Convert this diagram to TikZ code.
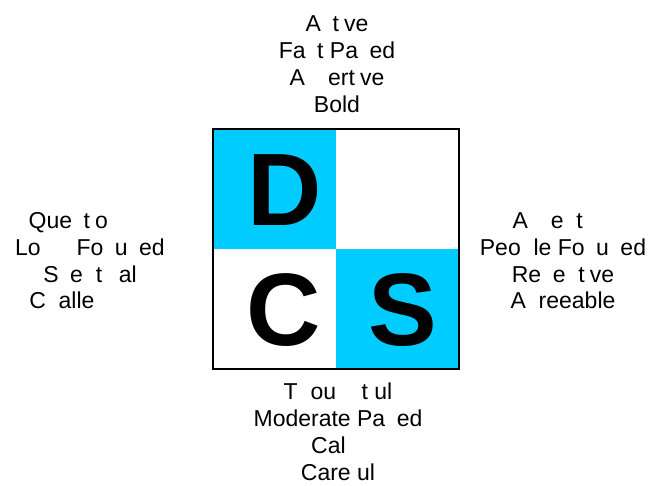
\documentclass[tikz,border=0pt]{standalone}
\usepackage{fontspec}
\setmainfont{Liberation Sans}
\usepackage{tikz}

\definecolor{discblue}{HTML}{00CCFF}
\newcommand{\gap}[1]{\phantom{#1}}

\begin{document}
\begin{tikzpicture}[x=1pt,y=-1pt,
  trait/.style={anchor=base,inner sep=0pt,font=\fontsize{23}{27}\selectfont},
  letter/.style={inner sep=0pt,font=\fontsize{103}{103}\selectfont\bfseries}]
\useasboundingbox (0,0) rectangle (650,485);
% quadrants
\fill[discblue] (213,129) rectangle (336,249);
\fill[discblue] (336,249) rectangle (459,369);
\draw[line width=2.5pt] (213,129) rectangle (459,369);
\node[letter] (D) at (285,190) {D};
\node[letter] (C) at (284,310) {C};
\node[letter] (S) at (403,310) {S};
% traits round the square
\foreach \t [count=\i] in %
{{A\gap{c}t\gap{i}ve},{Fa\gap{s}t Pa\gap{c}ed},{A\gap{ss}ert\gap{i}ve},{Bold}} {
   \node[trait] (top-\i) at (337,4+27*\i) {\t};
}
\foreach \t [count=\i] in %
{{Que\gap{s}t\gap{i}o\gap{ning}},{Lo\gap{gic} Fo\gap{c}u\gap{s}ed},{S\gap{k}e\gap{p}t\gap{ic}al},{C\gap{h}alle\gap{nging}}} {
   \node[trait] (left-\i) at (90,202+26.7*\i) {\t};
}
\foreach \t [count=\i] in %
{{A\gap{cc}e\gap{p}t\gap{ing}},{Peo\gap{p}le Fo\gap{c}u\gap{s}ed},{Re\gap{c}e\gap{p}t\gap{i}ve},{A\gap{g}reeable}} {
   \node[trait] (right-\i) at (563,202+26.7*\i) {\t};
}
\foreach \t [count=\i] in %
{{T\gap{h}ou\gap{gh}t\gap{f}ul},{Moderate Pa\gap{c}ed},{Cal\gap{m}},{Care\gap{f}ul}} {
   \node[trait] (bottom-\i) at (338,372.5+27*\i) {\t};
}
\end{tikzpicture}
\end{document}
